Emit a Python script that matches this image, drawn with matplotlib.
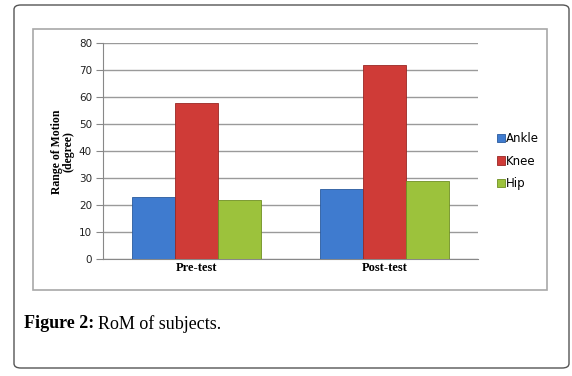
import matplotlib
matplotlib.use("Agg")
import matplotlib.pyplot as plt
import numpy as np
from matplotlib.patches import FancyBboxPatch, Rectangle

categories = ["Pre-test", "Post-test"]
series_names = ["Ankle", "Knee", "Hip"]
ankle = [23, 26]
knee = [58, 72]
hip = [22, 29]
yticks = [0, 10, 20, 30, 40, 50, 60, 70, 80]

colors = ["#3f7bcf", "#cf3b37", "#9cc23c"]
edges = ["#2a5a9e", "#9a2824", "#6f8f22"]

W, H = 572, 376
fig = plt.figure(figsize=(W / 100, H / 100), dpi=100)

def fx(px):
    return px / W

def fy(py):
    return 1 - py / H

# outer rounded frame
fig.patches.append(FancyBboxPatch((fx(14), fy(368)), fx(555), 363 / H,
                                  boxstyle="round,pad=0,rounding_size=0.012",
                                  transform=fig.transFigure, fill=False,
                                  edgecolor="#555555", linewidth=1.0))
# chart area frame
fig.patches.append(Rectangle((fx(33), fy(290)), fx(514), 261 / H,
                             transform=fig.transFigure, fill=False,
                             edgecolor="#a8a8a8", linewidth=1.2))

ax = fig.add_axes([fx(103), fy(259.3), fx(375), (259.3 - 43.3) / H])
x = np.arange(len(categories))
bw = 0.23
for i, (vals, name) in enumerate(zip([ankle, knee, hip], series_names)):
    ax.bar(x + (i - 1) * bw, vals, width=bw, color=colors[i],
           edgecolor=edges[i], linewidth=0.6, label=name, zorder=3)

ax.set_xlim(-0.5, 1.5)
ax.set_ylim(0, 80)
ax.set_yticks(yticks)
ax.set_yticklabels([str(t) for t in yticks], fontsize=7.5, color="#222222",
                   family="DejaVu Sans")
ax.set_xticks(x)
ax.set_xticklabels(categories, fontsize=9, fontweight="bold",
                   family="Liberation Serif")
ax.tick_params(axis="x", length=0, pad=2)
ax.tick_params(axis="y", length=5, color="#888888", pad=3)
ax.grid(axis="y", color="#9a9a9a", linewidth=1.0, zorder=0)
for s in ["top", "right"]:
    ax.spines[s].set_visible(False)
ax.spines["left"].set_color("#888888")
ax.spines["bottom"].set_color("#888888")
ax.set_ylabel("Range of Motion\n(degree)", fontsize=8.5, fontweight="bold",
              family="Liberation Serif", linespacing=1.0, labelpad=3)

leg = ax.legend(loc="center left", bbox_to_anchor=(fx(492 - 103) / fx(375), 0.455),
                frameon=False, fontsize=8.5, handlelength=0.7, handleheight=0.7,
                handletextpad=0.1, labelspacing=0.8, borderaxespad=0)

t1 = fig.text(fx(24), fy(324), "Figure 2:", fontsize=13, fontweight="semibold",
              family="Liberation Serif", va="center", ha="left")
fig.canvas.draw()
bb = t1.get_window_extent()
fig.text(fx(bb.x1 + 4), fy(324), "RoM of subjects.", fontsize=13,
         family="Liberation Serif", va="center", ha="left")

fig.savefig("out.png", dpi=100)
